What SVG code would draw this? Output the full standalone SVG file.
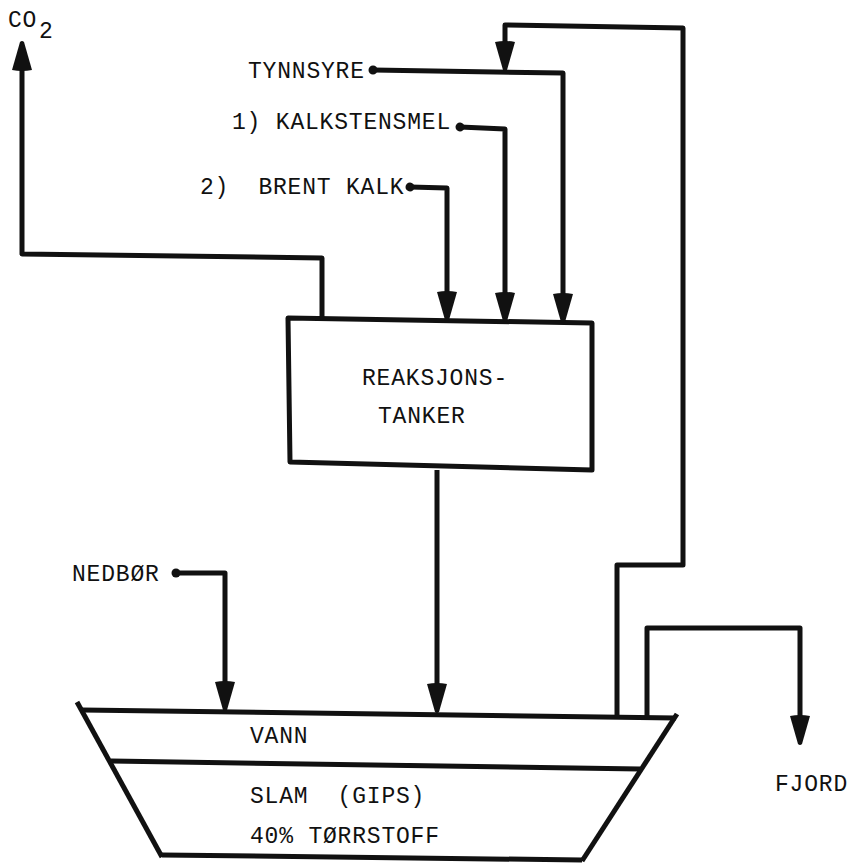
<svg xmlns="http://www.w3.org/2000/svg" width="850" height="863" viewBox="0 0 850 863">
<style>
.t{font-family:"Liberation Mono","DejaVu Sans Mono",monospace;font-size:23px;letter-spacing:0.8px;fill:#111;white-space:pre}
.c{fill:none;stroke:#111;stroke-width:5;stroke-linejoin:round}
.s{fill:#fff;stroke:#111;stroke-width:5;stroke-linejoin:round}
</style>
<defs>
<marker id="ah" markerUnits="userSpaceOnUse" viewBox="-3 -12 36 24" markerWidth="36" markerHeight="24" refX="0" refY="0" orient="auto">
<path d="M0,-10 L28,-2 Q30,0 28,2 L0,10 Q-2,0 0,-10 z" fill="#111"/>
</marker>
<marker id="dot" markerUnits="userSpaceOnUse" viewBox="-6 -6 12 12" markerWidth="12" markerHeight="12" refX="0" refY="0" orient="auto">
<circle r="4.5" fill="#111"/>
</marker>
</defs>
<rect width="850" height="863" fill="#fff"/>

<g id="reaksjonstanker">
<polygon class="s" points="288,318 592,323 592,470 290,462"/>
<text class="t" x="362" y="385">REAKSJONS-</text>
<text class="t" x="378" y="423">TANKER</text>
</g>

<g id="tank">
<line class="s" x1="82" y1="710" x2="676" y2="718"/>
<line class="s" x1="111" y1="761" x2="640" y2="769"/>
<line class="s" x1="162" y1="855" x2="582" y2="860"/>
<line class="s" x1="77" y1="702" x2="162" y2="857"/>
<line class="s" x1="677" y1="714" x2="582" y2="861"/>
<text class="t" x="250" y="743">VANN</text>
<text class="t" x="250" y="803">SLAM  (GIPS)</text>
<text class="t" x="250" y="843">40% TØRRSTOFF</text>
</g>

<g id="co2">
<text class="t" x="8" y="27">CO</text>
<text class="t" x="39" y="38">2</text>
</g>
<g id="tynnsyre"><text class="t" x="248" y="78">TYNNSYRE</text></g>
<g id="kalkstensmel"><text class="t" x="232" y="129">1) KALKSTENSMEL</text></g>
<g id="brentkalk"><text class="t" x="200" y="194">2)  BRENT KALK</text></g>
<g id="nedbor"><text class="t" x="72" y="581">NEDBØR</text></g>
<g id="fjord"><text class="t" x="775" y="791">FJORD</text></g>

<g id="connectors">
<path class="c" d="M322,318 L322,258 L22,254 L22,70" marker-end="url(#ah)"/>
<path class="c" d="M373,70 L563,73 L563,294" marker-start="url(#dot)" marker-end="url(#ah)"/>
<path class="c" d="M460,127 L505,129 L505,293" marker-start="url(#dot)" marker-end="url(#ah)"/>
<path class="c" d="M410,187 L447,188 L447,292" marker-start="url(#dot)" marker-end="url(#ah)"/>
<path class="c" d="M617,718 L617,565 L683,565 L683,28 L505,25 L505,42" marker-end="url(#ah)"/>
<path class="c" d="M437,470 L437,684" marker-end="url(#ah)"/>
<path class="c" d="M176,573 L225,573 L225,682" marker-start="url(#dot)" marker-end="url(#ah)"/>
<path class="c" d="M647,718 L647,628 L800,628 L800,716" marker-end="url(#ah)"/>
</g>
</svg>
